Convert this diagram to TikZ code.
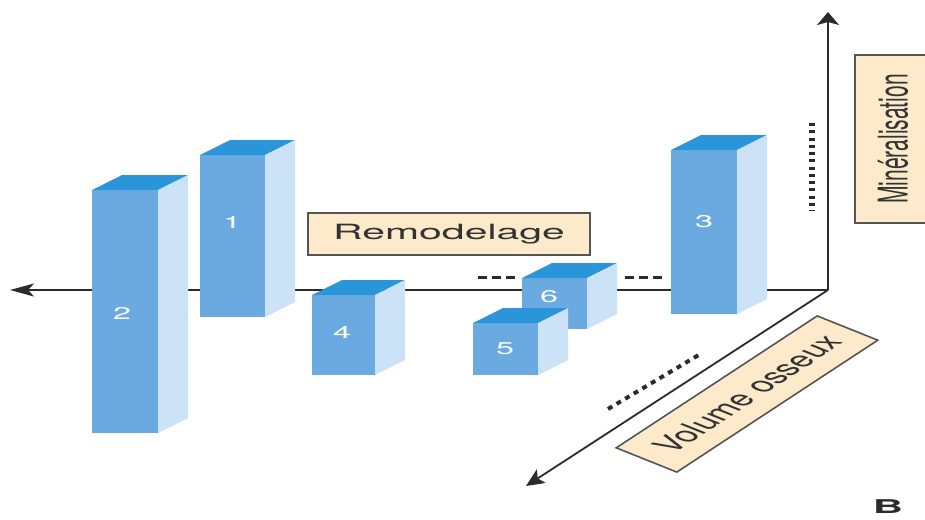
\documentclass[tikz,border=0pt]{standalone}
\usepackage{fontspec}
\setmainfont{TeX Gyre Heros}
\usetikzlibrary{arrows.meta}
\definecolor{frontc}{HTML}{6BAAE0}
\definecolor{topc}{HTML}{2B95DA}
\definecolor{sidec}{HTML}{CCE2F6}
\definecolor{lblfill}{HTML}{FCEACB}
\definecolor{lbldraw}{HTML}{555555}
\definecolor{axisc}{HTML}{2B2B2B}
\definecolor{txtc}{HTML}{333333}
\newcommand\mycuboid[5]{%
  \node[front, minimum width={#4-#2}, minimum height={#5-#3}] (#1) at (#2,#3) {};
  \fill[topc] (#1.north west) -- ++(30,-15) -- ([shift={(30,-15)}]#1.north east) -- (#1.north east) -- cycle;
  \fill[sidec] (#1.north east) -- ++(30,-15) -- ([shift={(30,-15)}]#1.south east) -- (#1.south east) -- cycle;
}
\begin{document}
\begin{tikzpicture}[x=1pt,y=-1pt,
  axis/.style={draw=axisc, line width=1.8pt},
  front/.style={fill=frontc, inner sep=0pt, outer sep=0pt, anchor=north west},
  num/.style={text=white, inner sep=0pt, font=\fontsize{17}{17}\selectfont},
  lbl/.style={fill=lblfill, draw=lbldraw, line width=1.6pt, inner sep=0pt, text=txtc},
  dashline/.style={draw=axisc, line width=3pt, dash pattern=on 9pt off 5pt},
  dotline/.style={draw=axisc, line width=6.5pt, dash pattern=on 3pt off 4.25pt},
  diagdots/.style={draw=axisc, line width=4pt, dash pattern=on 5pt off 5pt}]
\useasboundingbox (0,0) rectangle (925,519);
\clip (0,0) rectangle (925,519);
\fill[white] (0,0) rectangle (925,519);

% axes
\coordinate (O) at (828,290);
\coordinate (xend) at (10,290);
\coordinate (yend) at (828,12);
\coordinate (zend) at (526,486);
\draw[axis, -{Stealth[length=24pt,width=13pt,inset=6pt]}] (O) -- (xend);
\draw[axis, -{Stealth[length=13pt,width=22pt,inset=3pt]}] (O) -- (yend);
\draw[axis, -{Stealth[length=18pt,width=16pt,inset=4pt]}] (O) -- (zend);

% dashed and dotted marks
\coordinate (d1a) at (478,277); \coordinate (d1b) at (518,277);
\coordinate (d2a) at (625,277); \coordinate (d2b) at (662,277);
\coordinate (v1a) at (812,123); \coordinate (v1b) at (812,211);
\coordinate (g1a) at (608,409); \coordinate (g1b) at (702,353);
\draw[dashline] (d1a) -- (d1b);
\draw[dashline] (d2a) -- (d2b);
\draw[dotline] (v1a) -- (v1b);
\draw[diagdots] (g1a) -- (g1b);

% cuboids
\mycuboid{b2}{92}{190}{158}{433}
\mycuboid{b1}{200}{155}{265}{317}
\mycuboid{b4}{312}{295}{375}{375}
\mycuboid{b6}{522}{278}{587}{329}
\mycuboid{b5}{473}{323}{538}{375}
\mycuboid{b3}{671}{150}{737}{314}
\node[num] (n2) at (122,313) {\scalebox{1.9}[1]{2}};
\node[num] (n1) at (232,222) {\scalebox{1.9}[1]{1}};
\node[num] (n4) at (342,332) {\scalebox{1.9}[1]{4}};
\node[num] (n6) at (549,297) {\scalebox{1.9}[1]{6}};
\node[num] (n5) at (505,349) {\scalebox{1.9}[1]{5}};
\node[num] (n3) at (704,222) {\scalebox{1.9}[1]{3}};

% labels
\node[lbl, minimum width=282pt, minimum height=42pt] (remo) at (449,234)
  {\fontsize{21}{21}\selectfont\scalebox{1.95}[1]{Remodelage}};
\node[lbl, minimum width=76pt, minimum height=168pt] (mine) at (893,139)
  {\scalebox{1.95}[1]{\rotatebox{90}{\fontsize{21}{21}\selectfont Minéralisation}}};
\begin{scope}[shift={(747,394)}, xscale=1.95]
  \node[fill=lblfill, inner sep=0pt, text=txtc, minimum width=167pt, minimum height=39pt,
        rotate=52, transform shape] (vol) at (0,0) {\fontsize{21}{21}\selectfont Volume osseux};
\end{scope}
\draw[lbldraw, line width=1.6pt] (vol.north west) -- (vol.north east) -- (vol.south east) -- (vol.south west) -- cycle;

\node[text=axisc, inner sep=0pt, font=\bfseries\fontsize{19}{19}\selectfont] (B) at (888,507) {\scalebox{2.2}[1]{B}};
\end{tikzpicture}
\end{document}
